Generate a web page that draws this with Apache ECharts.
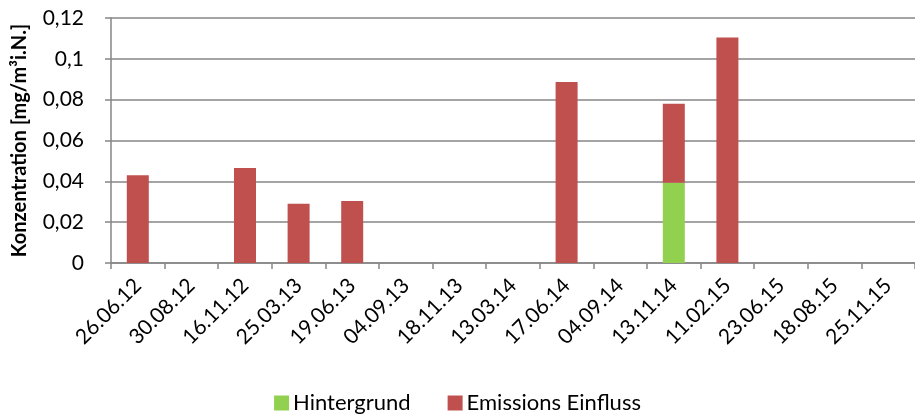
<!DOCTYPE html>
<html>
<head>
<meta charset="utf-8">
<script src="https://cdn.jsdelivr.net/npm/echarts@6/dist/echarts.min.js"></script>
<style>
  html, body { margin: 0; padding: 0; background: #fff; }
  #chart { width: 915px; height: 416px; }
</style>
</head>
<body>
<div id="chart"></div>
<script>
var dates = ['26.06.12', '30.08.12', '16.11.12', '25.03.13', '19.06.13', '04.09.13', '18.11.13',
             '13.03.14', '17.06.14', '04.09.14', '13.11.14', '11.02.15', '23.06.15', '18.08.15', '25.11.15'];
var hintergrund = ['-', '-', '-', '-', '-', '-', '-', '-', '-', '-', 0.0393, '-', '-', '-', '-'];
var emissionen = [0.043, '-', 0.0465, 0.029, 0.0304, '-', '-', '-', 0.0887, '-', 0.0387, 0.1105, '-', '-', '-'];
var yTicks = [0, 0.02, 0.04, 0.06, 0.08, 0.1, 0.12];

var chartDom = document.getElementById('chart');
var myChart = echarts.init(chartDom);
var option;

var font = 'Lato, "Open Sans", sans-serif';

option = {
    animation: false,
    textStyle: { fontFamily: font },
    grid: {
        left: 111,
        right: -9,
        top: 18,
        bottom: 153
    },
    legend: {
        bottom: -3,
        left: 'center',
        itemWidth: 15,
        itemHeight: 15,
        itemGap: 37,
        icon: 'rect',
        textStyle: { fontSize: 22, color: '#000', fontFamily: font, padding: [0, 0, 0, -1] },
        data: ['Hintergrund', 'Emissions Einfluss']
    },
    xAxis: {
        type: 'category',
        data: dates,
        axisLine: { lineStyle: { color: '#868686', width: 1.5 } },
        axisTick: { show: true, length: 6, lineStyle: { color: '#868686', width: 1.5 } },
        axisLabel: { rotate: 45, fontSize: 21, color: '#000', margin: 19, fontFamily: font }
    },
    yAxis: {
        type: 'value',
        min: 0,
        max: yTicks[yTicks.length - 1],
        interval: 0.02,
        name: 'Konzentration [mg/m³i.N.]',
        nameLocation: 'middle',
        nameGap: 81,
        nameTextStyle: { fontSize: 20, fontWeight: 'bold', color: '#000', fontFamily: font },
        axisLine: { show: true, lineStyle: { color: '#868686', width: 1.5 } },
        axisTick: { show: true, length: 6, lineStyle: { color: '#868686', width: 1.5 } },
        splitLine: { lineStyle: { color: '#868686', width: 1.5 } },
        axisLabel: {
            fontSize: 21, color: '#000', margin: 27, fontFamily: font,
            formatter: function (v) { return String(Math.round(v * 100) / 100).replace('.', ','); }
        }
    },
    series: [{
        name: 'Hintergrund',
        type: 'bar',
        stack: 'total',
        barWidth: 22,
        itemStyle: { color: '#92d050' },
        data: hintergrund
    }, {
        name: 'Emissions Einfluss',
        type: 'bar',
        stack: 'total',
        barWidth: 22,
        itemStyle: { color: '#c0504d' },
        data: emissionen
    }]
};

option && myChart.setOption(option);
</script>
</body>
</html>
